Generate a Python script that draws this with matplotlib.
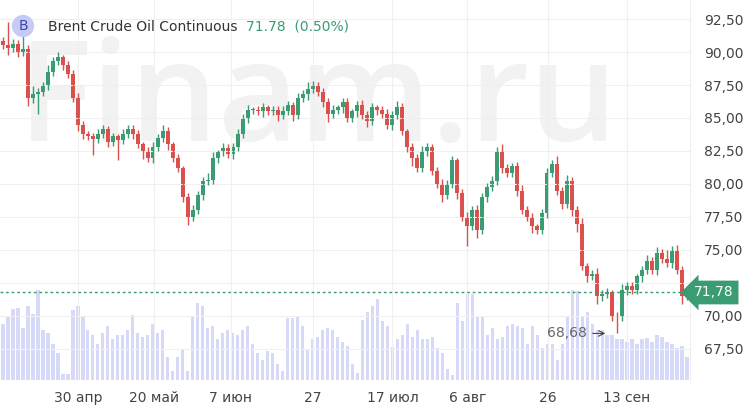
import numpy as np
import matplotlib.pyplot as plt
from matplotlib.patches import Rectangle

closes = [90.5, 90.3, 90.6, 90.0, 90.2, 86.5, 86.8, 87.0, 87.5, 88.5, 89.3, 89.6, 89.0, 88.3, 86.5, 84.5,
          83.8, 83.6, 83.4, 83.8, 84.2, 83.2, 83.6, 83.3, 83.8, 84.2, 83.8, 83.0, 82.5, 82.0, 82.8, 83.5,
          84.0, 83.0, 82.0, 81.2, 79.0, 77.5, 78.0, 79.2, 80.2, 80.3, 82.0, 82.4, 82.7, 82.3, 82.8, 83.8,
          85.0, 85.6, 85.6, 85.5, 85.8, 85.5, 85.6, 85.2, 85.5, 86.0, 85.2, 86.5, 86.8, 87.2, 87.5, 87.0,
          86.2, 85.3, 85.6, 85.8, 86.2, 85.0, 85.5, 86.0, 85.2, 84.8, 85.8, 85.6, 85.3, 84.5, 85.2, 85.8,
          84.0, 82.8, 82.0, 81.2, 82.5, 82.8, 81.0, 80.0, 79.2, 80.0, 81.8, 79.3, 77.5, 76.8, 78.0, 76.5,
          79.0, 79.8, 80.2, 82.5, 81.2, 80.8, 81.4, 79.5, 78.0, 77.5, 76.8, 76.5, 77.8, 80.8, 81.5, 79.5,
          78.5, 80.2, 78.0, 77.0, 73.8, 73.0, 73.2, 71.5, 71.7, 71.8, 70.0, 69.9, 72.0, 72.3, 72.0, 73.0,
          73.5, 74.2, 73.5, 74.8, 74.3, 74.0, 75.0, 73.5, 71.5, 71.8]
opens = [90.8] + closes[:-1]
wick_up = [0.3, 1.8, 0.4, 0.3, 2.5, 0.3, 0.6, 0.3, 0.2, 0.5, 0.3, 0.4, 0.2, 0.3, 0.3, 0.4,
           0.3, 0.2, 0.3, 0.4, 0.3, 0.2, 0.3, 0.2, 0.4, 0.3, 0.3, 0.3, 0.2, 0.3, 0.4, 0.3,
           0.5, 0.3, 0.2, 0.3, 0.2, 0.3, 0.4, 0.3, 0.3, 0.5, 0.4, 0.2, 0.4, 0.3, 0.3, 0.4,
           0.3, 0.4, 0.2, 0.3, 0.3, 0.2, 0.3, 0.3, 0.4, 0.3, 0.2, 0.4, 0.3, 0.5, 0.3, 0.2,
           0.3, 0.3, 0.4, 0.2, 0.3, 0.3, 0.2, 0.3, 0.4, 0.3, 0.3, 0.2, 0.3, 0.4, 0.3, 0.5,
           0.3, 0.2, 0.3, 0.3, 0.4, 0.3, 0.2, 0.3, 0.4, 0.3, 0.3, 0.2, 0.3, 0.4, 0.3, 0.4,
           0.3, 0.3, 0.4, 0.3, 0.5, 0.3, 0.2, 0.3, 0.4, 0.3, 0.3, 0.2, 0.3, 0.4, 0.3, 0.6,
           0.3, 0.5, 0.3, 0.3, 0.4, 0.2, 0.3, 0.4, 0.3, 0.3, 0.2, 0.3, 0.4, 0.3, 0.3, 0.2,
           0.3, 0.4, 0.3, 0.4, 0.3, 0.7, 0.3, 0.4, 0.3, 0.3]
wick_dn = [0.3, 0.5, 0.3, 0.4, 0.3, 0.6, 0.4, 1.5, 0.3, 0.4, 0.3, 0.3, 0.4, 0.3, 0.3, 0.5,
           0.4, 0.3, 1.2, 0.3, 0.3, 0.4, 0.3, 1.5, 0.3, 0.3, 0.4, 0.3, 0.6, 0.3, 0.4, 0.3,
           0.3, 0.4, 0.3, 0.3, 0.4, 0.6, 0.3, 0.3, 0.4, 0.3, 0.3, 0.4, 0.3, 0.3, 0.4, 0.3,
           0.3, 0.4, 0.3, 0.3, 0.4, 0.3, 0.3, 0.4, 0.3, 0.3, 0.4, 0.3, 0.3, 0.4, 0.3, 0.3,
           0.4, 0.6, 0.3, 0.3, 0.4, 0.3, 0.3, 0.4, 0.3, 0.5, 0.3, 0.4, 0.3, 0.3, 0.4, 0.3,
           0.3, 0.4, 0.6, 0.3, 0.3, 0.4, 0.3, 0.3, 0.6, 0.3, 0.3, 0.4, 0.3, 1.5, 0.3, 0.6,
           0.3, 0.4, 0.3, 0.3, 0.4, 0.3, 0.3, 0.4, 0.3, 0.3, 0.5, 0.3, 0.3, 0.4, 0.3, 0.3,
           0.4, 0.3, 0.4, 0.6, 0.3, 0.4, 0.3, 0.6, 0.4, 0.3, 0.4, 1.2, 0.3, 0.4, 0.3, 0.3,
           0.4, 0.3, 0.3, 0.4, 0.3, 0.3, 0.4, 0.3, 0.6, 0.3]
volumes = [62, 70, 78, 80, 58, 82, 73, 100, 55, 52, 40, 30, 7, 7, 77, 82,
           70, 55, 50, 40, 52, 60, 45, 50, 50, 55, 72, 52, 48, 50, 62, 52,
           55, 25, 10, 25, 33, 10, 70, 85, 82, 58, 60, 45, 52, 55, 52, 50,
           55, 60, 40, 30, 22, 32, 30, 18, 10, 68, 68, 70, 60, 33, 45, 48,
           55, 58, 55, 48, 42, 38, 18, 8, 66, 75, 82, 90, 65, 60, 36, 45,
           50, 62, 48, 55, 45, 45, 48, 35, 30, 12, 5, 85, 65, 95, 95, 70,
           70, 50, 58, 45, 48, 60, 62, 60, 58, 40, 60, 50, 35, 40, 40, 22,
           40, 70, 100, 98, 70, 75, 62, 55, 55, 50, 50, 45, 45, 42, 45, 40,
           45, 46, 42, 50, 48, 42, 40, 35, 38, 25]
tick_pos = [15.0, 30.2, 45.6, 62.0, 78.0, 93.0, 109.2, 125.0]
tick_labels = ["30 апр", "20 май", "7 июн", "27", "17 июл", "6 авг", "26", "13 сен"]
last_price = 71.78
low_mark = 68.68
low_idx = 122

green = "#3b9b72"
red = "#d9504d"

fig = plt.figure(figsize=(7.5, 4.13), dpi=100)
fig.text(318 / 750, 1 - 105 / 413, "Finam.ru", fontsize=100, color="#f2f2f2", ha="center",
         va="center", family="Open Sans", weight="semibold", zorder=0)

ax = fig.add_axes([0, 33 / 413, 690 / 750, 380 / 413])
vax = ax.twinx()
vax.set_zorder(0)
ax.set_zorder(1)
ax.patch.set_visible(False)
vax.patch.set_visible(False)

n = len(closes)
x = np.arange(n)
vax.bar(x, volumes, width=0.65, color="#d6daf8")
vax.set_ylim(0, 420)
vax.set_yticks([])

for i in range(n):
    o, c = opens[i], closes[i]
    col = green if c >= o else red
    hi = max(o, c) + wick_up[i]
    lo = min(o, c) - wick_dn[i]
    ax.vlines(i, lo, hi, color=col, lw=1)
    ax.add_patch(Rectangle((i - 0.4, min(o, c)), 0.8, max(abs(c - o), 0.08), color=col, lw=0))

ax.set_xlim(-0.6, n - 0.4)
ax.set_ylim(65.15, 93.94)
yt = [67.5, 70, 72.5, 75, 77.5, 80, 82.5, 85, 87.5, 90, 92.5]
ax.set_yticks(yt)
ax.set_yticklabels([f"{v:.2f}".replace(".", ",") if v != 72.5 else "" for v in yt])
ax.yaxis.tick_right()
ax.set_xticks(tick_pos)
ax.set_xticklabels(tick_labels)
ax.tick_params(length=0, labelsize=10, colors="#444444", pad=8)
ax.tick_params(axis="y", pad=10)
ax.grid(color="#f0f0f0", lw=0.8)
for s in ["top", "left", "bottom"]:
    ax.spines[s].set_visible(False)
ax.spines["right"].set_color("#eeeeee")
for s in vax.spines.values():
    s.set_visible(False)

ax.axhline(last_price, color=green, lw=1, ls=(0, (2, 2)))
ax.text(1.0 + 4 / 690, last_price, "71,78", transform=ax.get_yaxis_transform(), color="white",
        fontsize=10, va="center", ha="left",
        bbox=dict(boxstyle="larrow,pad=0.35", fc=green, ec="none"))
ax.annotate("68,68", xy=(low_idx - 0.8, low_mark), xytext=(low_idx - 5, low_mark), color="#666666",
            fontsize=10, va="center", ha="right",
            arrowprops=dict(arrowstyle="->", color="#444444", lw=0.8))

fig.text(23 / 750, 1 - 26 / 413, "B", fontsize=10, color="#3f46b0", ha="center", va="center",
         bbox=dict(boxstyle="circle,pad=0.3", fc="#c6cbf3", ec="none"))
fig.text(48 / 750, 1 - 27 / 413, "Brent Crude Oil Continuous", fontsize=10, color="#333333",
         va="center")
fig.text(246 / 750, 1 - 27 / 413, "71.78  (0.50%)", fontsize=10, color=green, va="center")

fig.savefig("out.png", dpi=100)
